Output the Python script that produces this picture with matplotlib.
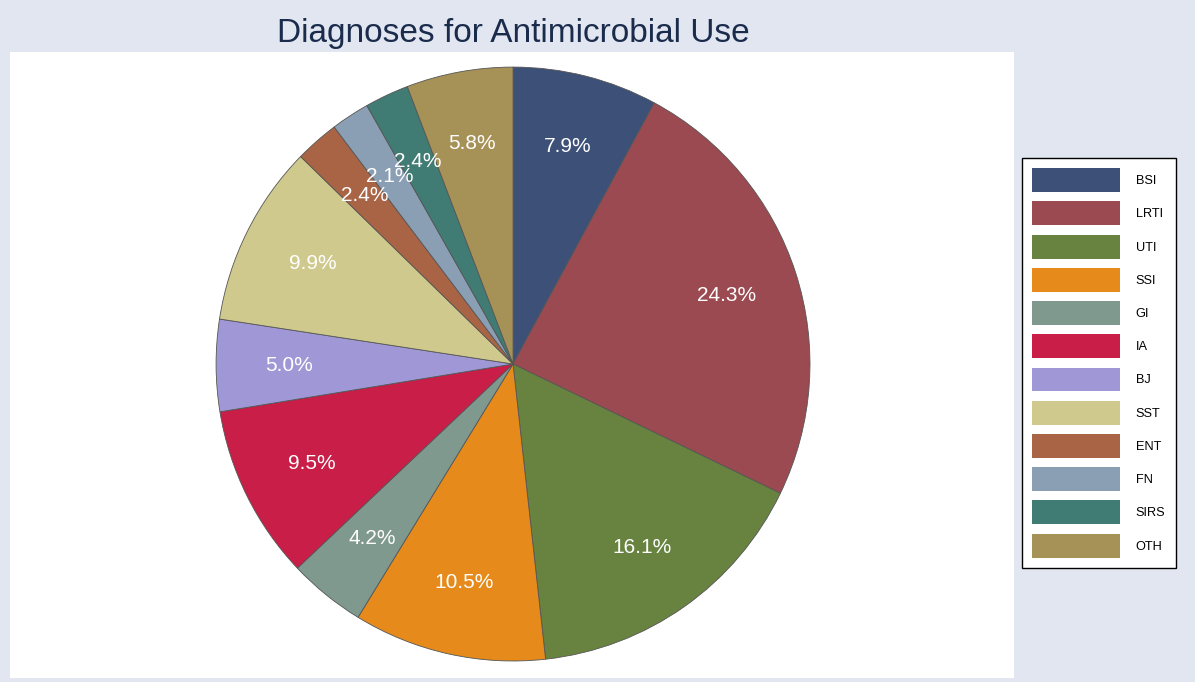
import matplotlib.pyplot as plt
from matplotlib.patches import Patch

plt.rcParams['font.family'] = ['Liberation Sans', 'DejaVu Sans']

# diagnosis categories and their share (%)
labels = ['BSI', 'LRTI', 'UTI', 'SSI', 'GI', 'IA', 'BJ', 'SST', 'ENT', 'FN', 'SIRS', 'OTH']
shares = [7.9, 24.3, 16.1, 10.5, 4.2, 9.5, 5.0, 9.9, 2.4, 2.1, 2.4, 5.8]
colors = ['#3d5078', '#9a4a50', '#67833f', '#e58a1b', '#7f998f', '#c81e47',
          '#a098d6', '#cfc98d', '#a86444', '#8a9eb4', '#407b74', '#a69257']

total = sum(shares)

fig = plt.figure(figsize=(11.95, 6.82), dpi=100, facecolor='#e1e6f0')
ax = fig.add_axes([10/1195, 4/682, 1004/1195, 626/682])

wedges, texts, autotexts = ax.pie(
    shares, colors=colors, startangle=90, counterclock=False,
    autopct=lambda p: f'{p*total/100:.1f}%', pctdistance=0.755,
    wedgeprops={'linewidth': 0.6, 'edgecolor': '#555555'},
    textprops={'color': 'white', 'fontsize': 15})

ax.set_xlim(-1.694, 1.687)
ax.set_ylim(-1.057, 1.0505)
ax.set_frame_on(True)
for s in ax.spines.values():
    s.set_visible(False)
ax.set_facecolor('white')

fig.text(513/1195, 1 - 42/682, 'Diagnoses for Antimicrobial Use',
         ha='center', va='baseline', fontsize=24, color='#1a2b4c')

handles = [Patch(facecolor=c, edgecolor='none') for c in colors]
leg = fig.legend(handles, labels, loc='upper left', bbox_to_anchor=(1022/1195, 1 - 158/682),
                 borderaxespad=0, fontsize=9.2, handlelength=6.9, handleheight=2.5,
                 labelspacing=0.73, handletextpad=1.2, borderpad=0.8,
                 fancybox=False, framealpha=1, edgecolor='black')
leg.get_frame().set_linewidth(1)

fig.savefig('out.png', dpi=100, facecolor=fig.get_facecolor())
